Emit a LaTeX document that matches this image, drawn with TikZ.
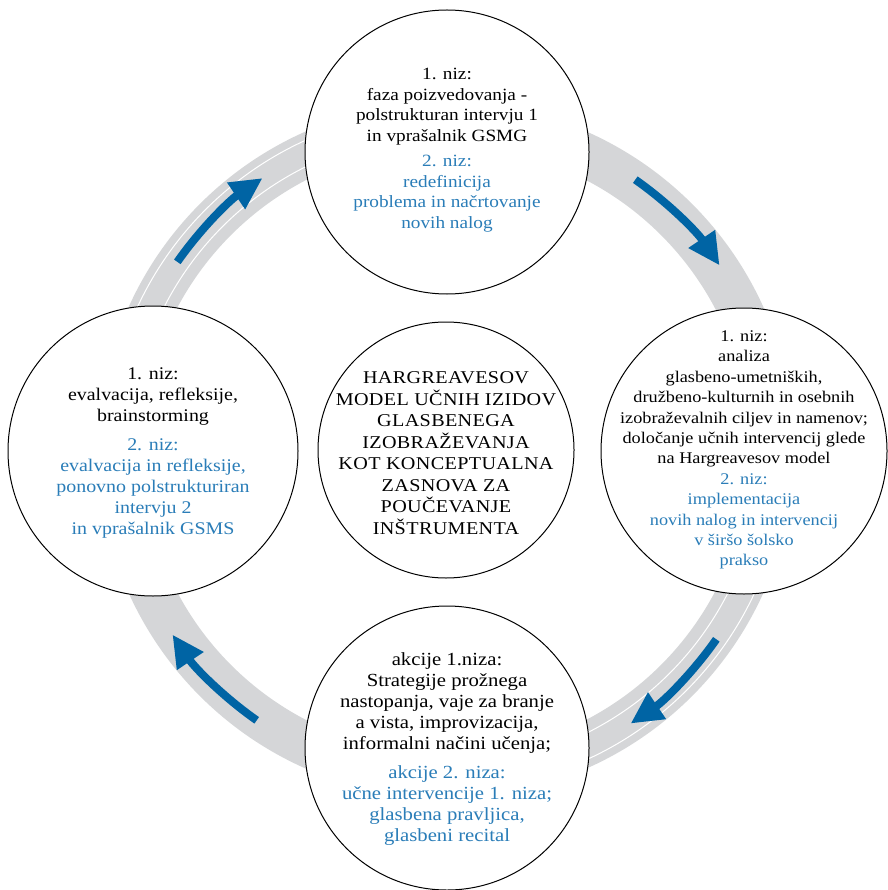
\documentclass[tikz,border=0pt]{standalone}
\usepackage{fontspec}
\setmainfont{Liberation Serif}[FakeStretch=1.12]
\usetikzlibrary{arrows.meta,calc}
\definecolor{ringgray}{HTML}{D5D6D8}
\definecolor{arrowblue}{HTML}{0064A4}
\definecolor{textblue}{HTML}{2A7DB8}
\tikzset{
  bubble/.style={circle,draw=black,line width=1pt,fill=white,inner sep=0pt},
  bubbletext/.style={align=center,inner sep=0pt,font=\fontsize{16}{20.5}\selectfont},
  flowarrow/.style={draw=arrowblue,line width=8pt,-{Triangle[length=32pt,width=30pt]}},
  track/.style={draw=white,line width=1pt}
}
\begin{document}
\begin{tikzpicture}[x=1pt,y=-1pt]
\useasboundingbox (0,0) rectangle (887,890);
\coordinate (O) at (446,450);
% ring
\draw[ringgray,line width=44pt] (O) circle[radius=326];
\draw[track] ($(O)+(180:340)$) arc[start angle=180,end angle=270,radius=340];
\draw[track] ($(O)+(180:316)$) arc[start angle=180,end angle=270,radius=316];
\draw[track] ($(O)+(0:340)$) arc[start angle=0,end angle=90,radius=340];
\draw[track] ($(O)+(0:316)$) arc[start angle=0,end angle=90,radius=316];
% arrows
\draw[flowarrow] ($(O)+(-145:328)$) arc[start angle=-145,end angle=-124,radius=328];
\draw[flowarrow] ($(O)+(-55:330)$) arc[start angle=-55,end angle=-34,radius=330];
\draw[flowarrow] ($(O)+(35:330)$) arc[start angle=35,end angle=56,radius=330];
\draw[flowarrow] ($(O)+(125:330)$) arc[start angle=125,end angle=146,radius=330];
% circles
\node[bubble,minimum size=284pt] (T) at (447,152) {};
\node[bubble,minimum size=286pt] (R) at (744,451) {};
\node[bubble,minimum size=290pt] (L) at (153,451) {};
\node[bubble,minimum size=284pt] (B) at (447,748) {};
\node[bubble,minimum size=256pt] (C) at (446,450) {};
% texts
\node[bubbletext,font=\fontsize{17.2}{20.5}\selectfont] (Tt) at ([yshift=2pt]T.center) {1. niz:\\ faza poizvedovanja -\\ polstrukturan intervju 1\\ in vprašalnik GSMG\\[5pt]
\textcolor{textblue}{2. niz:}\\ \textcolor{textblue}{redefinicija}\\ \textcolor{textblue}{problema in načrtovanje}\\ \textcolor{textblue}{novih nalog}};
\node[bubbletext,font=\fontsize{16.3}{20.4}\selectfont] (Rt) at ([yshift=1pt]R.center) {1. niz:\\ analiza\\ glasbeno-umetniških,\\ družbeno-kulturnih in osebnih\\ izobraževalnih ciljev in namenov;\\ določanje učnih intervencij glede\\ na Hargreavesov model\\
\textcolor{textblue}{2. niz:}\\ \textcolor{textblue}{implementacija}\\ \textcolor{textblue}{novih nalog in intervencij}\\ \textcolor{textblue}{v širšo šolsko}\\ \textcolor{textblue}{prakso}};
\node[bubbletext,font=\fontsize{17.8}{21}\selectfont] (Lt) at ([yshift=-2pt]L.center) {1. niz:\\ evalvacija, refleksije,\\ brainstorming\\[8pt]
\textcolor{textblue}{2. niz:}\\ \textcolor{textblue}{evalvacija in refleksije,}\\ \textcolor{textblue}{ponovno polstrukturiran}\\ \textcolor{textblue}{intervju 2}\\ \textcolor{textblue}{in vprašalnik GSMS}};
\node[bubbletext,font=\fontsize{18.5}{21}\selectfont] (Bt) at ([yshift=-1pt]B.center) {akcije 1.niza:\\ Strategije prožnega\\ nastopanja, vaje za branje\\ a vista, improvizacija,\\ informalni načini učenja;\\[8pt]
\textcolor{textblue}{akcije 2. niza:}\\ \textcolor{textblue}{učne intervencije 1. niza;}\\ \textcolor{textblue}{glasbena pravljica,}\\ \textcolor{textblue}{glasbeni recital}};
\node[bubbletext,font=\fontsize{18}{21.5}\selectfont\addfontfeatures{LetterSpace=2}] (Ct) at ([yshift=-3pt]C.center) {HARGREAVESOV\\ MODEL UČNIH IZIDOV\\ GLASBENEGA\\ IZOBRAŽEVANJA\\ KOT KONCEPTUALNA\\ ZASNOVA ZA\\ POUČEVANJE\\ INŠTRUMENTA};
\end{tikzpicture}
\end{document}
